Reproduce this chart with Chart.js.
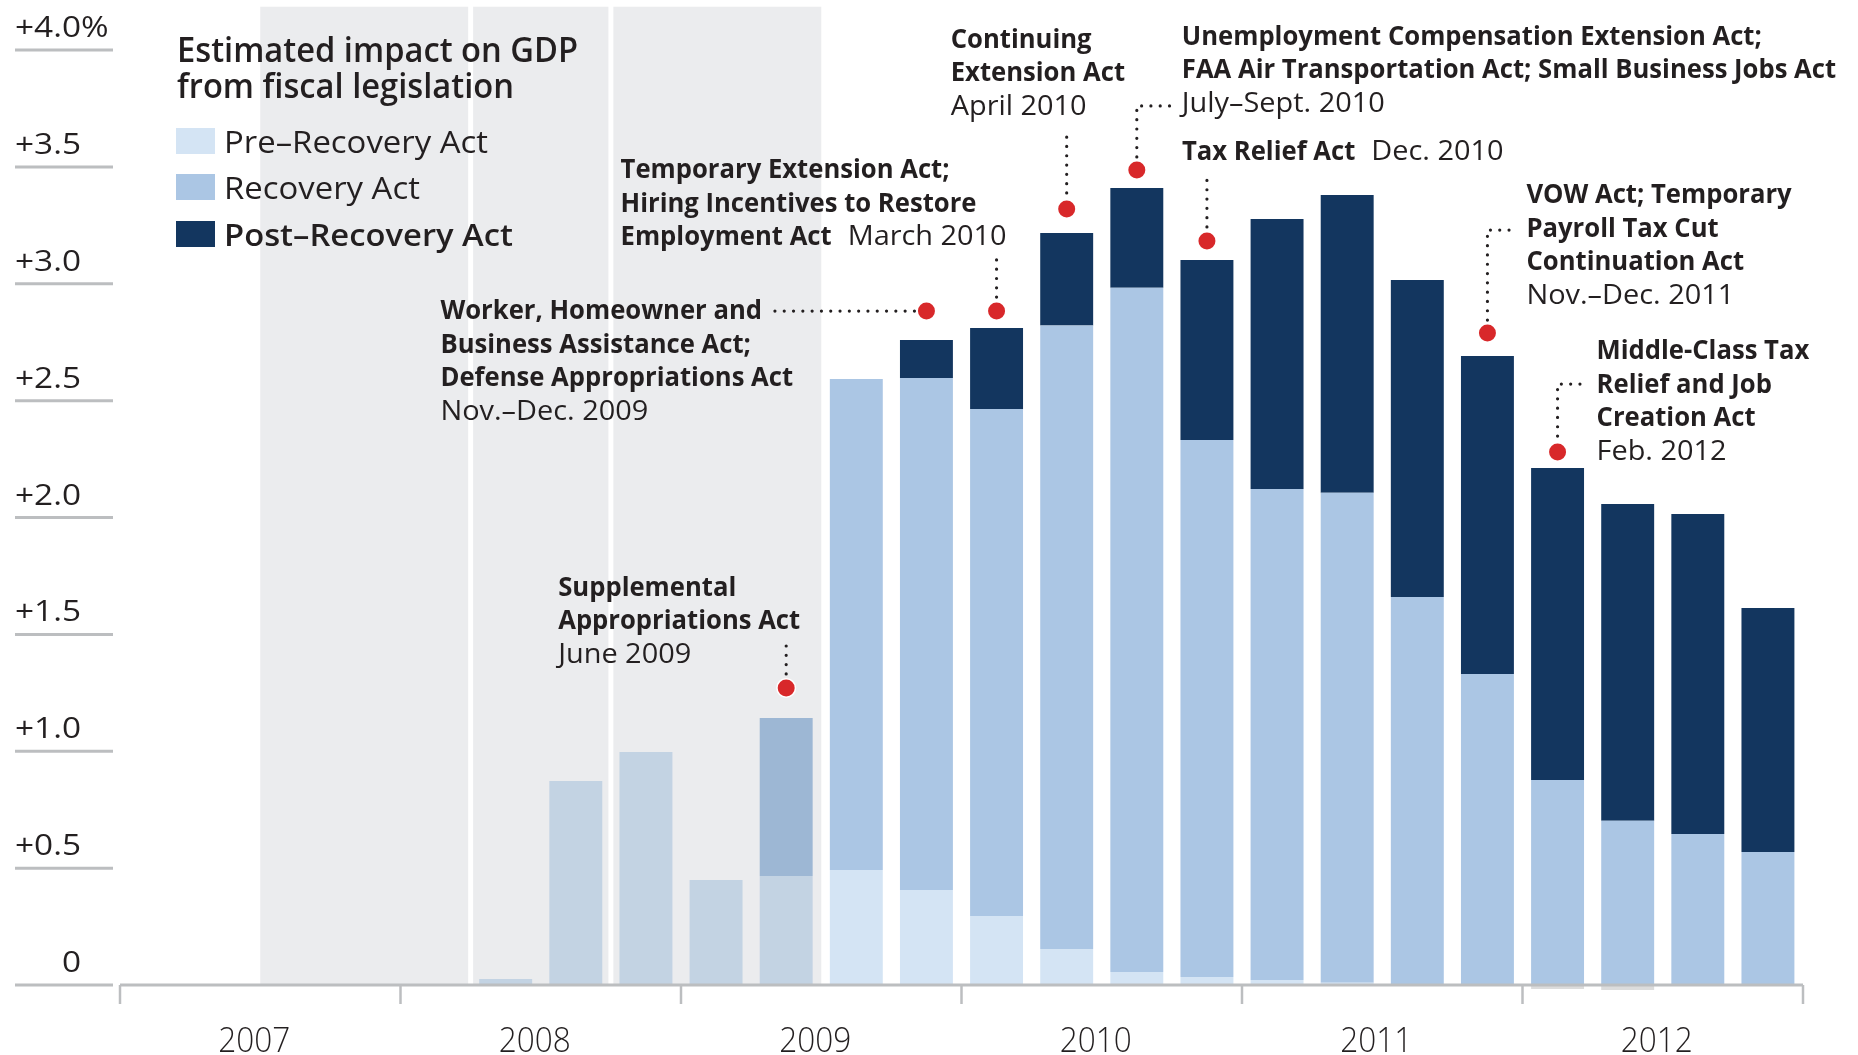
<!DOCTYPE html>
<html>
<head>
<meta charset="utf-8">
<title>Estimated impact on GDP from fiscal legislation</title>
<script src="https://cdn.jsdelivr.net/npm/chart.js"></script>
<style>
  html, body { margin: 0; padding: 0; background: #fff; }
  canvas { display: block; }
</style>
</head>
<body>
<canvas id="gdpChart" width="1858" height="1055"></canvas>
<script>
const years = ['2007', '2008', '2009', '2010', '2011', '2012'];
const quarters = years.flatMap(yr => ['Q1', 'Q2', 'Q3', 'Q4'].map(q => yr + ' ' + q));

// percent of GDP, one value per quarter (2007 Q1 .. 2012 Q4)
const preRecovery = [null, null, null, null, null, 0.026, 0.873, 0.997, 0.449, 0.466, 0.492, 0.406,
  0.295, 0.154, 0.056, 0.034, 0.021, 0.010, null, null, -0.017, -0.021, null, null];
const recoveryAct = [null, null, null, null, null, null, null, null, null, 0.676, 2.101, 2.191,
  2.169, 2.667, 2.927, 2.298, 2.101, 2.096, 1.660, 1.330, 0.877, 0.703, 0.646, 0.569];
const postRecovery = [null, null, null, null, null, null, null, null, null, null, null, 0.162,
  0.347, 0.396, 0.427, 0.770, 1.155, 1.274, 1.356, 1.361, 1.335, 1.355, 1.369, 1.044];

const yTicks = [0, 0.5, 1, 1.5, 2, 2.5, 3, 3.5, 4];
const yTickLabels = ['0', '+0.5', '+1.0', '+1.5', '+2.0', '+2.5', '+3.0', '+3.5', '+4.0%'];

// shaded period, in quarter indexes, with the two thin breaks inside it
const shade = { from: 2, to: 9, breaks: [4.5, 6.5], top: 4.185 };

const seriesNames = ['Pre\u2013Recovery Act', 'Recovery Act', 'Post\u2013Recovery Act'];
const colors = ['#d4e4f4', '#abc6e4', '#13365f'];

// q = quarter index, at = height of the red marker (percent), dx/dy = text offset from marker
const notes = [
  { q: 9, at: 1.271, dx: -228, dy: -92, lead: [[0, -14], [0, -42]],
    lines: [[['Supplemental', 'note']], [['Appropriations Act', 'note']], [['June 2009', 'date']]] },
  { q: 11, at: 2.883, dx: -486, dy: 8, lead: [[-12, 0], [-158, 0]],
    lines: [[['Worker, Homeowner and', 'note']], [['Business Assistance Act;', 'note']],
      [['Defense Appropriations Act', 'note']], [['Nov.\u2013Dec. 2009', 'date']]] },
  { q: 12, at: 2.883, dx: -376, dy: -133, lead: [[0, -14], [0, -53]],
    lines: [[['Temporary Extension Act;', 'note']], [['Hiring Incentives to Restore', 'note']],
      [['Employment Act', 'note'], ['March 2010', 'date']]] },
  { q: 13, at: 3.320, dx: -116, dy: -161, lead: [[0, -16], [0, -79]],
    lines: [[['Continuing', 'note']], [['Extension Act', 'note']], [['April 2010', 'date']]] },
  { q: 14, at: 3.487, dx: 45, dy: -125, lead: [[0, -13], [0, -64], [34, -64]],
    lines: [[['Unemployment Compensation Extension Act;', 'note']],
      [['FAA Air Transportation Act; Small Business Jobs Act', 'note']], [['July\u2013Sept. 2010', 'date']]] },
  { q: 15, at: 3.183, dx: -25, dy: -81, lead: [[0, -14], [0, -68]],
    lines: [[['Tax Relief Act', 'note'], ['Dec. 2010', 'date']]] },
  { q: 19, at: 2.789, dx: 39, dy: -130, lead: [[0, -13], [0, -103], [29, -103]],
    lines: [[['VOW Act; Temporary', 'note']], [['Payroll Tax Cut', 'note']],
      [['Continuation Act', 'note']], [['Nov.\u2013Dec. 2011', 'date']]] },
  { q: 20, at: 2.280, dx: 39, dy: -93, lead: [[0, -16], [0, -68], [29, -68]],
    lines: [[['Middle-Class Tax', 'note']], [['Relief and Job', 'note']],
      [['Creation Act', 'note']], [['Feb. 2012', 'date']]] }
];

const family = "'Open Sans', 'Noto Sans', sans-serif";
const ink = '#231f20';
const axisGray = '#bcbec0';
// sample/width pairs squeeze the glyphs sideways to the narrow face of the original
const styles = {
  tick: { weight: 400, size: 30, sample: '+3.5', width: 66 },
  year: { weight: 300, size: 35, sample: '2007', width: 72 },
  title: { weight: 600, size: 35, sample: 'Estimated impact on GDP', width: 401 },
  legend: { weight: 400, size: 31, sample: 'Pre\u2013Recovery Act', width: 264 },
  legendBold: { weight: 600, size: 31, sample: 'Post\u2013Recovery Act', width: 289 },
  note: { weight: 700, size: 27, sample: 'Appropriations Act', width: 242 },
  date: { weight: 400, size: 28, sample: 'June 2009', width: 133 }
};

function setFont(ctx, st) {
  ctx.font = st.weight + ' ' + st.size + 'px ' + family;
  if (!st.squeeze) st.squeeze = st.width / ctx.measureText(st.sample).width;
}

function drawText(ctx, str, x, y, st, align) {
  ctx.save();
  setFont(ctx, st);
  const w = ctx.measureText(str).width * st.squeeze;
  let left = x;
  if (align === 'right') left = x - w;
  if (align === 'center') left = x - w / 2;
  ctx.translate(left, y);
  ctx.scale(st.squeeze, 1);
  ctx.textAlign = 'left';
  ctx.textBaseline = 'alphabetic';
  ctx.fillStyle = ink;
  ctx.fillText(str, 0, 0);
  ctx.restore();
  return w;
}

function dotted(ctx, pts) {
  ctx.save();
  ctx.strokeStyle = ink;
  ctx.lineWidth = 3.2;
  ctx.lineCap = 'round';
  ctx.setLineDash([0, 9.3]);
  ctx.beginPath();
  ctx.moveTo(pts[0][0], pts[0][1]);
  for (let i = 1; i < pts.length; i++) ctx.lineTo(pts[i][0], pts[i][1]);
  ctx.stroke();
  ctx.restore();
}

const decor = {
  id: 'decor',
  beforeDraw(chart) {
    const { ctx } = chart;
    ctx.save();
    ctx.fillStyle = '#fff';
    ctx.fillRect(0, 0, chart.width, chart.height);
    ctx.restore();
  },
  afterDatasetsDraw(chart) {
    const { ctx } = chart;
    const xs = chart.scales.x, ys = chart.scales.y;
    const x0 = xs.getPixelForValue(0);
    const step = xs.getPixelForValue(1) - x0;
    const px = v => x0 + v * step;
    const zero = ys.getPixelForValue(0);

    // shaded period, multiplied over the bars
    ctx.save();
    ctx.globalCompositeOperation = 'multiply';
    ctx.fillStyle = '#ebecee';
    const edges = [shade.from - 0.5, ...shade.breaks, shade.to + 0.5];
    const top = ys.getPixelForValue(shade.top);
    for (let k = 0; k < edges.length - 1; k++) {
      const l = px(edges[k]) + (k > 0 ? 2.5 : 0);
      const r = px(edges[k + 1]) - (k < edges.length - 2 ? 2.5 : 0);
      ctx.fillRect(l, top, r - l, zero - top);
    }
    ctx.restore();

    // x axis with year ticks
    ctx.save();
    ctx.strokeStyle = axisGray;
    ctx.lineWidth = 3;
    ctx.beginPath();
    ctx.moveTo(px(-0.5), zero);
    ctx.lineTo(px(quarters.length - 0.5), zero);
    ctx.stroke();
    ctx.lineWidth = 2.5;
    for (let k = 0; k <= years.length; k++) {
      const tx = px(4 * k - 0.5);
      ctx.beginPath();
      ctx.moveTo(tx, zero);
      ctx.lineTo(tx, zero + 19);
      ctx.stroke();
    }
    ctx.restore();
    years.forEach((yr, k) => {
      const cx = (px(4 * k - 0.5) + px(4 * k + 3.5)) / 2 - 6;
      drawText(ctx, yr, cx, zero + 67, styles.year, 'center');
    });

    // y ticks: short rules at the left with labels sitting on them
    yTicks.forEach((t, i) => {
      const gy = ys.getPixelForValue(t);
      ctx.save();
      ctx.strokeStyle = axisGray;
      ctx.lineWidth = 3;
      ctx.beginPath();
      ctx.moveTo(15, gy);
      ctx.lineTo(113, gy);
      ctx.stroke();
      ctx.restore();
      let lab = yTickLabels[i];
      if (lab.endsWith('%')) {
        lab = lab.slice(0, -1);
        drawText(ctx, '%', 81, gy - 13, styles.tick, 'left');
      }
      drawText(ctx, lab, 81, gy - 13, styles.tick, 'right');
    });

    // title and legend
    drawText(ctx, 'Estimated impact on GDP', 177, 62, styles.title, 'left');
    drawText(ctx, 'from fiscal legislation', 177, 98, styles.title, 'left');
    const legendY = [154, 200, 247];
    seriesNames.forEach((name, i) => {
      ctx.fillStyle = colors[i];
      ctx.fillRect(176, legendY[i] - 26, 39, 26);
      drawText(ctx, name, 224, legendY[i] - 1, i === 2 ? styles.legendBold : styles.legend, 'left');
    });

    // annotations
    notes.forEach(n => {
      const dx = px(n.q);
      const dy = ys.getPixelForValue(n.at);
      dotted(ctx, n.lead.map(p => [dx + p[0], dy + p[1]]));
      ctx.save();
      ctx.beginPath();
      ctx.arc(dx, dy, 10, 0, Math.PI * 2);
      ctx.fillStyle = '#fff';
      ctx.fill();
      ctx.beginPath();
      ctx.arc(dx, dy, 8.5, 0, Math.PI * 2);
      ctx.fillStyle = '#d8282a';
      ctx.fill();
      ctx.restore();
      n.lines.forEach((line, li) => {
        let lx = dx + n.dx;
        const ly = dy + n.dy + li * 33.5;
        line.forEach((seg, si) => {
          if (si > 0) lx += 16;
          lx += drawText(ctx, seg[0], lx, ly, styles[seg[1]], 'left');
        });
      });
    });
  }
};

new Chart(document.getElementById('gdpChart'), {
  type: 'bar',
  data: {
    labels: quarters,
    datasets: [
      { label: seriesNames[0], data: preRecovery,
        backgroundColor: c => (c.raw < 0 ? '#dcdcdc' : colors[0]) },
      { label: seriesNames[1], data: recoveryAct, backgroundColor: colors[1] },
      { label: seriesNames[2], data: postRecovery, backgroundColor: colors[2] }
    ]
  },
  options: {
    responsive: false,
    animation: false,
    devicePixelRatio: 1,
    layout: { padding: { left: 120, right: 55, top: 50, bottom: 23.25 } },
    datasets: { bar: { categoryPercentage: 1, barPercentage: 0.755 } },
    scales: {
      x: { stacked: true, display: false },
      y: { stacked: true, display: false, min: -0.2, max: 4 }
    },
    plugins: {
      legend: { display: false },
      tooltip: { enabled: false }
    }
  },
  plugins: [decor]
});
</script>
</body>
</html>
